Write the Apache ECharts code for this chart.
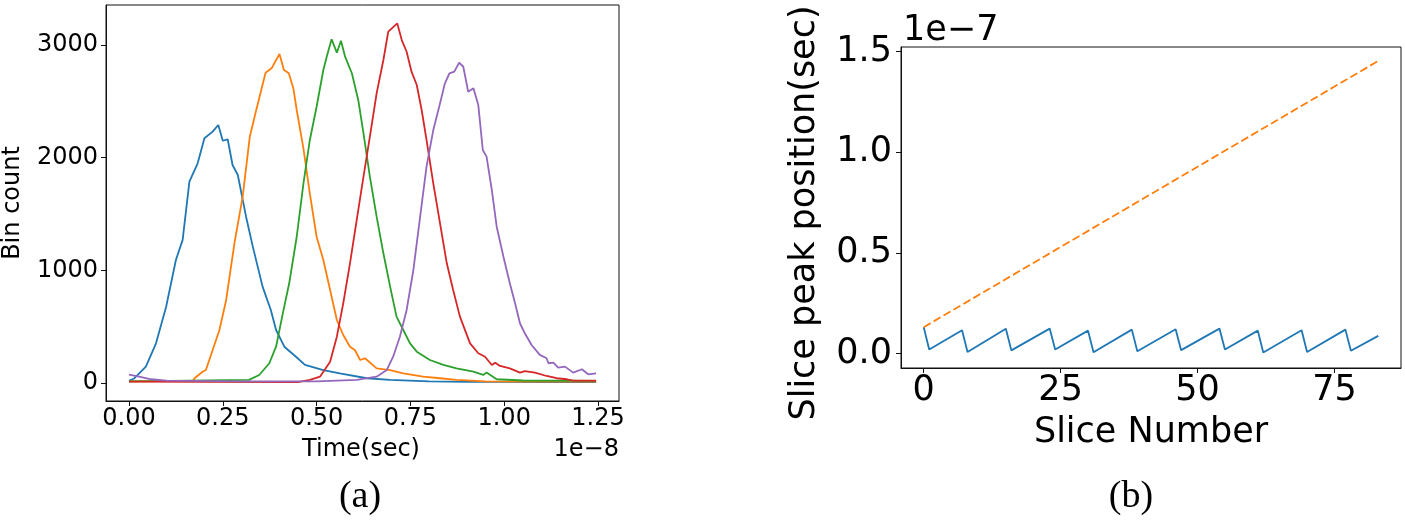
<!DOCTYPE html>
<html>
<head>
<meta charset="utf-8">
<script src="https://cdn.jsdelivr.net/npm/echarts@6/dist/echarts.min.js"></script>
<style>
html, body { margin: 0; padding: 0; background: #fff; }
#main { width: 1405px; height: 521px; }
</style>
</head>
<body>
<div id="main"></div>
<script>
// tick labels
var timeTicks = [0, 0.25, 0.5, 0.75, 1.0, 1.25];     // x1e-8 sec
var countTicks = [0, 1000, 2000, 3000];
var sliceTicks = [0, 25, 50, 75];
var peakTicks = [0, 0.5, 1.0, 1.5];                  // x1e-7 sec

// (a) bin counts per slice, [time (1e-8 s), count]
var slice1 = [[0,20],[0.014,40],[0.045,145],[0.072,352],[0.099,677],[0.125,1092],[0.143,1270],[0.161,1787],[0.183,1950],[0.201,2172],[0.223,2231],[0.238,2290],[0.25,2150],[0.263,2163],[0.276,1935],[0.29,1846],[0.312,1476],[0.33,1210],[0.356,855],[0.378,648],[0.392,470],[0.414,322],[0.445,233],[0.469,160],[0.518,115],[0.562,86],[0.634,42],[0.696,27],[0.8,15],[0.9,10],[1.0,10],[1.1,8],[1.245,8]];
var slice2 = [[0,15],[0.17,18],[0.174,40],[0.196,100],[0.205,115],[0.223,293],[0.241,470],[0.259,737],[0.281,1240],[0.303,1654],[0.322,2186],[0.338,2408],[0.364,2754],[0.38,2793],[0.401,2920],[0.413,2778],[0.426,2749],[0.438,2616],[0.447,2423],[0.465,2080],[0.482,1680],[0.5,1298],[0.518,1092],[0.536,825],[0.554,559],[0.571,426],[0.589,322],[0.602,293],[0.616,204],[0.629,219],[0.66,130],[0.696,115],[0.731,86],[0.784,56],[0.829,42],[0.873,27],[0.95,15],[1.05,12],[1.245,12]];
var slice3 = [[0,15],[0.32,27],[0.347,71],[0.374,175],[0.392,322],[0.41,618],[0.427,885],[0.447,1298],[0.465,1772],[0.482,2157],[0.5,2452],[0.518,2778],[0.527,2896],[0.54,3050],[0.554,2932],[0.565,3038],[0.576,2896],[0.594,2749],[0.611,2512],[0.625,2216],[0.642,1831],[0.66,1476],[0.678,1151],[0.696,855],[0.713,589],[0.731,470],[0.749,352],[0.767,278],[0.802,204],[0.838,160],[0.873,130],[0.918,100],[0.944,71],[0.953,92],[0.98,33],[1.05,22],[1.245,18]];
var slice4 = [[0,12],[0.2,10],[0.45,8],[0.482,27],[0.509,56],[0.536,189],[0.554,411],[0.571,707],[0.589,1062],[0.607,1447],[0.625,1831],[0.642,2186],[0.66,2571],[0.678,2867],[0.691,3118],[0.715,3192],[0.727,3044],[0.74,2940],[0.753,2763],[0.767,2645],[0.78,2423],[0.793,2157],[0.811,1772],[0.829,1417],[0.847,1062],[0.864,825],[0.882,589],[0.909,352],[0.931,264],[0.949,233],[0.967,160],[0.976,180],[0.989,151],[1.015,130],[1.042,92],[1.055,106],[1.082,92],[1.113,62],[1.14,42],[1.167,33],[1.185,20],[1.245,20]];
var slice5 = [[0,75],[0.03,55],[0.059,33],[0.1,20],[0.3,15],[0.5,15],[0.607,27],[0.66,56],[0.687,115],[0.704,233],[0.722,411],[0.74,648],[0.758,1003],[0.776,1476],[0.793,1920],[0.811,2245],[0.829,2482],[0.842,2660],[0.854,2749],[0.867,2763],[0.88,2843],[0.891,2807],[0.904,2586],[0.918,2616],[0.931,2467],[0.943,2068],[0.953,2009],[0.967,1713],[0.98,1387],[0.998,1121],[1.015,885],[1.029,707],[1.042,530],[1.055,441],[1.073,337],[1.095,249],[1.113,219],[1.118,175],[1.131,180],[1.144,136],[1.162,145],[1.184,92],[1.207,122],[1.224,77],[1.245,86]];

// (b) slice peak position, [slice, position (1e-7 s)]
var peakPos = [[0,0.131],[1,0.02],[7,0.116],[8,0.008],[15,0.123],[16,0.016],[23,0.124],[24,0.02],[30,0.114],[31,0.007],[38,0.119],[39,0.012],[46,0.121],[47,0.017],[54,0.124],[55,0.02],[61,0.114],[62,0.005],[69,0.116],[70,0.008],[77,0.119],[78,0.014],[83,0.088]];
var peakFit = [[0,0.131],[83,1.453]];

var colors = ['#1f77b4', '#ff7f0e', '#2ca02c', '#d62728', '#9467bd'];
var FONT = 'DejaVu Sans';

function line(data, color, xi, dash) {
    return {
        type: 'line',
        xAxisIndex: xi,
        yAxisIndex: xi,
        data: data,
        showSymbol: false,
        silent: true,
        lineStyle: { color: color, width: 1.8, type: dash || 'solid' }
    };
}

function axis(grid, min, max, ticks, fmt, size, margin) {
    return {
        type: 'value',
        gridIndex: grid,
        min: min,
        max: max,
        axisLine: { show: true, onZero: false, lineStyle: { color: '#111', width: 1 } },
        axisTick: { show: true, inside: false, length: 5, customValues: ticks, lineStyle: { color: '#111' } },
        axisLabel: {
            customValues: ticks,
            margin: margin,
            color: '#000',
            fontFamily: FONT,
            fontSize: size,
            formatter: fmt
        },
        splitLine: { show: false }
    };
}

function txt(x, y, s, font, align, rot) {
    return {
        type: 'text',
        x: x,
        y: y,
        rotation: rot || 0,
        silent: true,
        style: { text: s, font: font, fill: '#000', textAlign: align || 'center', textVerticalAlign: 'middle' }
    };
}

var myChart = echarts.init(document.getElementById('main'));
var option = {
    backgroundColor: '#fff',
    animation: false,
    grid: [
        { left: 106, top: 5, width: 513, height: 396, show: true, borderColor: '#111', borderWidth: 1, backgroundColor: 'transparent' },
        { left: 901, top: 47, width: 500, height: 321, show: true, borderColor: '#111', borderWidth: 1, backgroundColor: 'transparent' }
    ],
    xAxis: [
        axis(0, -0.0613, 1.306, timeTicks, function (v) { return v.toFixed(2); }, 24, 6),
        axis(1, -4.15, 87.15, sliceTicks, function (v) { return String(v); }, 35, 5)
    ],
    yAxis: [
        axis(0, -160, 3355, countTicks, function (v) { return String(v); }, 24, 8),
        axis(1, -0.0716, 1.522, peakTicks, function (v) { return v.toFixed(1); }, 35, 9)
    ],
    series: [
        line(slice1, colors[0], 0),
        line(slice2, colors[1], 0),
        line(slice3, colors[2], 0),
        line(slice4, colors[3], 0),
        line(slice5, colors[4], 0),
        line(peakPos, colors[0], 1),
        line(peakFit, colors[1], 1, [8, 3.5])
    ],
    graphic: [
        txt(13, 203, 'Bin count', '24px ' + FONT, 'center', Math.PI / 2),
        txt(361, 450, 'Time(sec)', '24px ' + FONT),
        txt(619, 450, '1e\u22128', '24px ' + FONT, 'right'),
        txt(360, 497, '(a)', '38px Liberation Serif'),
        txt(805, 213, 'Slice peak position(sec)', '35px ' + FONT, 'center', Math.PI / 2),
        txt(1151, 433, 'Slice Number', '35px ' + FONT),
        txt(903, 31, '1e\u22127', '35px ' + FONT, 'left'),
        txt(1131, 497, '(b)', '38px Liberation Serif')
    ]
};
myChart.setOption(option);
window.onresize = myChart.resize;
</script>
</body>
</html>
